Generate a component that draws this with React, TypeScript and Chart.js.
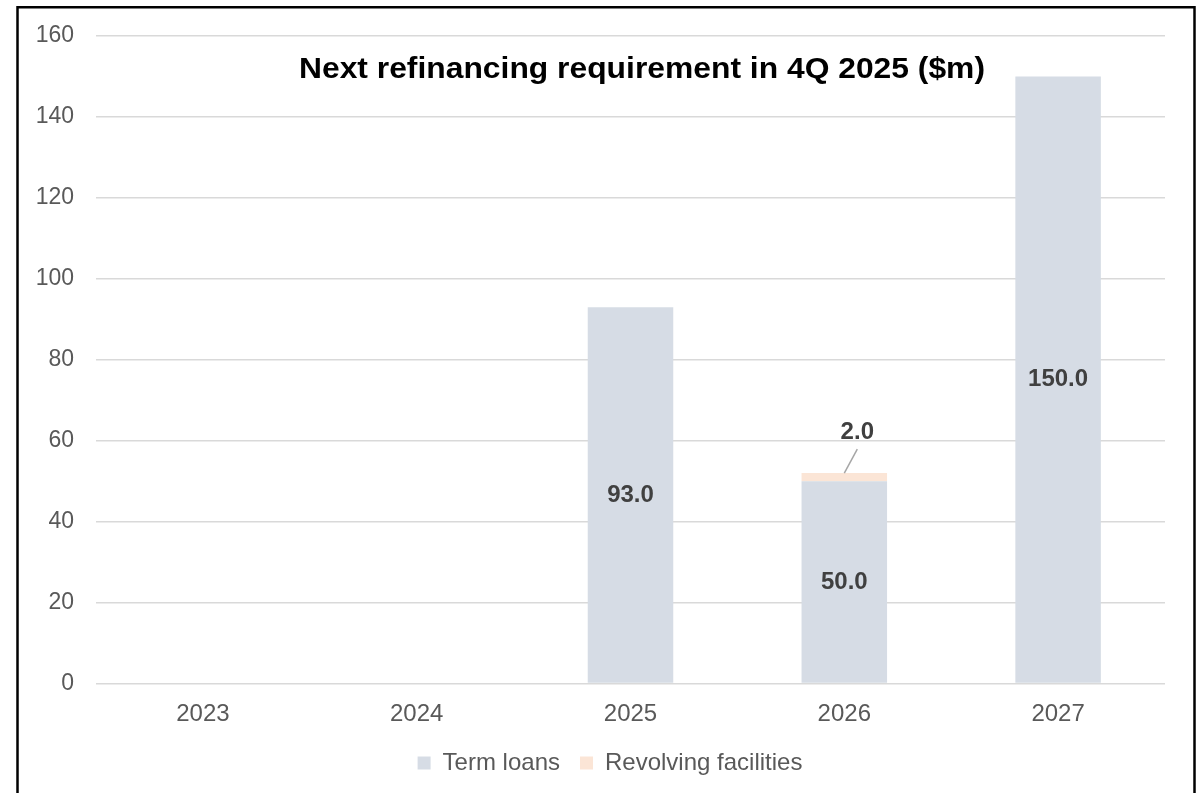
import React, { useEffect, useRef } from "react";
import { Chart, registerables } from "chart.js";

Chart.register(...registerables);

const categories = ["2023", "2024", "2025", "2026", "2027"];
const termLoans = [null, null, 93, 50, 150];
const revolvingFacilities = [null, null, null, 2, null];
const seriesNames = ["Term loans", "Revolving facilities"];
const chartTitle = "Next refinancing requirement in 4Q 2025 ($m)";
const yMin = 0;
const yMax = 160;
const yStep = 20;

const FONT = "'Liberation Sans', Arial, Helvetica, sans-serif";

const framePlugin = {
  id: "frame",
  afterDraw(chart: any) {
    const ctx = chart.ctx;
    ctx.save();
    ctx.strokeStyle = "#000000";
    ctx.lineWidth = 2.5;
    ctx.strokeRect(17.5, 7.25, 1177, 900);
    ctx.restore();
  },
};

const titlePlugin = {
  id: "floatTitle",
  afterDraw(chart: any) {
    const ctx = chart.ctx;
    ctx.save();
    ctx.font = `bold 29px ${FONT}`;
    ctx.fillStyle = "#000000";
    ctx.textAlign = "center";
    ctx.textBaseline = "alphabetic";
    const w = ctx.measureText(chartTitle).width;
    const sx = w > 0 ? 686 / w : 1;
    ctx.translate(642, 77.5);
    ctx.scale(sx, 1);
    ctx.fillText(chartTitle, 0, 0);
    ctx.restore();
  },
};

const valueLabelPlugin = {
  id: "valueLabels",
  afterDatasetsDraw(chart: any) {
    const ctx = chart.ctx;
    ctx.save();
    ctx.font = `bold 24px ${FONT}`;
    ctx.fillStyle = "#404040";
    ctx.textAlign = "center";
    ctx.textBaseline = "middle";
    chart.data.datasets.forEach((ds: any, di: number) => {
      const meta = chart.getDatasetMeta(di);
      meta.data.forEach((bar: any, i: number) => {
        const v = ds.data[i];
        if (v === null || v === undefined) return;
        const txt = Number(v).toFixed(1);
        if (di === 0) {
          ctx.fillText(txt, bar.x, (bar.y + bar.base) / 2);
        } else {
          ctx.save();
          ctx.strokeStyle = "#A6A6A6";
          ctx.lineWidth = 1.5;
          ctx.beginPath();
          ctx.moveTo(bar.x, bar.y);
          ctx.lineTo(bar.x + 13, bar.y - 24);
          ctx.stroke();
          ctx.restore();
          ctx.fillText(txt, bar.x + 13, bar.y - 41);
        }
      });
    });
    ctx.restore();
  },
};

export default function App() {
  const ref = useRef<HTMLCanvasElement | null>(null);

  useEffect(() => {
    if (!ref.current) return;
    const chart = new Chart(ref.current, {
      type: "bar",
      data: {
        labels: categories,
        datasets: [
          {
            label: seriesNames[0],
            data: termLoans,
            backgroundColor: "#D6DCE5",
            borderWidth: 0,
            barPercentage: 0.4,
            categoryPercentage: 1,
          },
          {
            label: seriesNames[1],
            data: revolvingFacilities,
            backgroundColor: "#FBE5D6",
            borderWidth: 0,
            barPercentage: 0.4,
            categoryPercentage: 1,
          },
        ],
      },
      options: {
        responsive: false,
        animation: false,
        devicePixelRatio: 1,
        layout: { padding: { top: 36, left: 17, right: 0, bottom: 8 } },
        plugins: {
          legend: {
            position: "bottom",
            labels: {
              boxWidth: 13,
              boxHeight: 13,
              padding: 20,
              color: "#595959",
              font: { family: FONT, size: 24 },
            },
          },
          title: { display: false },
          tooltip: { enabled: false },
        },
        scales: {
          x: {
            stacked: true,
            grid: { display: false },
            border: { display: false },
            ticks: {
              color: "#595959",
              padding: 8,
              font: { family: FONT, size: 24 },
            },
            afterFit(scale: any) {
              scale.height = 47.5;
            },
          },
          y: {
            stacked: true,
            min: yMin,
            max: yMax,
            grid: { color: "#D9D9D9", lineWidth: 1.5, drawTicks: false },
            border: { display: false },
            ticks: {
              stepSize: yStep,
              color: "#595959",
              padding: 22,
              font: { family: FONT, size: 23 },
            },
            afterFit(scale: any) {
              scale.width = 79;
            },
          },
          y2: {
            position: "right",
            display: true,
            grid: { display: false },
            border: { display: false },
            ticks: { display: false },
            afterFit(scale: any) {
              scale.width = 38;
            },
          },
        },
      },
      plugins: [framePlugin, titlePlugin, valueLabelPlugin],
    });
    return () => chart.destroy();
  }, []);

  return (
    <div style={{ position: "absolute", left: 0, top: 0, width: 1203, height: 793, background: "#ffffff" }}>
      <canvas ref={ref} width={1203} height={793} />
    </div>
  );
}
